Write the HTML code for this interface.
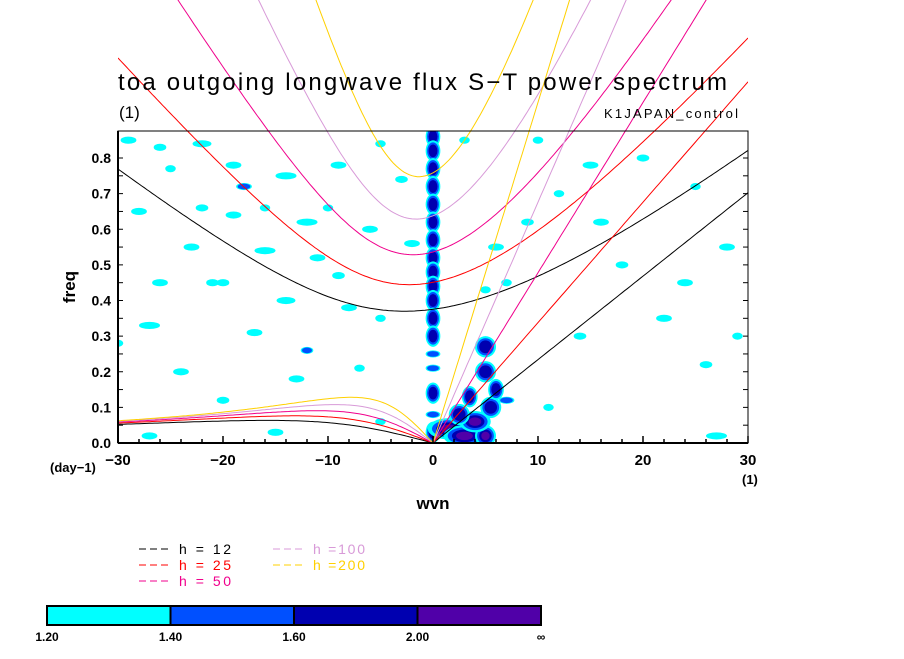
<!DOCTYPE html>
<html><head><meta charset="utf-8"><style>
body{margin:0;background:#fff;}
svg text{font-family:"Liberation Sans",sans-serif;}
</style></head><body>
<svg id="c" width="904" height="654" xmlns="http://www.w3.org/2000/svg">
<defs><clipPath id="plotx"><rect x="118" y="0" width="630" height="443"/></clipPath>
<clipPath id="plot"><rect x="118" y="131" width="630" height="312"/></clipPath></defs>
<rect width="904" height="654" fill="#fff"/>
<g id="spots" clip-path="url(#plot)"></g>
<g id="curves" clip-path="url(#plotx)"></g>
<g id="axes"></g>
<text x="118" y="90" font-size="24" fill="#000" textLength="609" lengthAdjust="spacing">toa outgoing longwave flux S−T power spectrum</text>
<text x="119" y="118" font-size="17">(1)</text>
<text x="738" y="118" font-size="13" text-anchor="end" textLength="134">K1JAPAN_control</text>
<text x="433" y="509" font-size="17" font-weight="bold" text-anchor="middle">wvn</text>
<text x="75" y="287" font-size="17" font-weight="bold" text-anchor="middle" transform="rotate(-90 75 287)">freq</text>
<text x="50" y="472" font-size="13" font-weight="bold">(day−1)</text>
<text x="742" y="484" font-size="13" font-weight="bold">(1)</text>
<g id="legend"></g>
<g id="cbar"></g>
</svg>
<script>
const NS="http://www.w3.org/2000/svg";
const depths=[12,25,50,100,200];
const depthColors=["#000000","#ff0000","#f0008c","#d89ad8","#ffd000"];
const levelLabels=["1.20","1.40","1.60","2.00","∞"];
const levelColors=["#00ffff","#0050ff","#0000b0","#5000a8"];
const xTicks=[-30,-20,-10,0,10,20,30];
const yTicks=[0,0.1,0.2,0.3,0.4,0.5,0.6,0.7,0.8];
// spots: wavenumber, frequency, level index, width (wvn), height (freq)
const spotK=[0,0,0,0,0,0,0,0,0,0,0,0,0,0,0,0,0,0,
 1.5,3,5,4,5.5,3.5,5,5,6,7,2.5,
 -29,-26,-22,-19,-25,-14,-9,-5,-3,-28,-22,-19,-12,-10,-6,-23,-16,-11,-26,-20,-14,-8,-5,-27,-17,-12,-24,-13,-7,-20,-15,-27,-5,6,9,12,15,20,25,28,18,24,29,22,14,27,10,3,7,5,-18,-21,-2,-9,-16,-30,16,26,11];
const spotF=[0.86,0.82,0.77,0.72,0.67,0.62,0.57,0.52,0.48,0.44,0.40,0.35,0.30,0.25,0.21,0.14,0.08,0.03,
 0.04,0.02,0.02,0.06,0.10,0.13,0.20,0.27,0.15,0.12,0.08,
 0.85,0.83,0.84,0.78,0.77,0.75,0.78,0.84,0.74,0.65,0.66,0.64,0.62,0.66,0.60,0.55,0.54,0.52,0.45,0.45,0.40,0.38,0.35,0.33,0.31,0.26,0.20,0.18,0.21,0.12,0.03,0.02,0.06,0.55,0.62,0.70,0.78,0.80,0.72,0.55,0.50,0.45,0.30,0.35,0.30,0.02,0.85,0.85,0.45,0.43,0.72,0.45,0.56,0.47,0.66,0.28,0.62,0.22,0.10];
const spotL=[2,2,2,2,2,2,2,2,2,2,2,2,2,1,1,2,1,2,
 3,3,3,3,2,2,2,2,2,1,2,
 0,0,0,0,0,0,0,0,0,0,0,0,0,0,0,0,0,0,0,0,0,0,0,0,0,1,0,0,0,0,0,0,0,0,0,0,0,0,0,0,0,0,0,0,0,0,0,0,0,0,1,0,0,0,0,0,0,0,0];
const spotW=[1.4,1.4,1.4,1.4,1.4,1.4,1.4,1.4,1.4,1.4,1.4,1.4,1.4,1.4,1.4,1.4,1.4,1.4,
 4,4,2,3,2,1.5,2,2,1.5,1.5,2,
 1.5,1.2,1.8,1.5,1,2,1.5,1,1.2,1.5,1.2,1.5,2,1,1.5,1.5,2,1.5,1.5,1.2,1.8,1.5,1,2,1.5,1.2,1.5,1.5,1,1.2,1.5,1.5,1,1.5,1.2,1,1.5,1.2,1,1.5,1.2,1.5,1,1.5,1.2,2,1,1,1,1,1.5,1.2,1.5,1.2,1,1,1.5,1.2,1];
const X0=118,X1=748,Y0=443,YS=356.25;
const xs=k=>X0+(k+30)/60*(X1-X0);
const ys=f=>Y0-f*YS;
function el(tag,attrs,parent){const e=document.createElementNS(NS,tag);for(const a in attrs)e.setAttribute(a,attrs[a]);parent.appendChild(e);return e;}
const sg=document.getElementById('spots');
for(let i=0;i<spotK.length;i++){
  const lv=spotL[i];
  for(let l=0;l<=lv;l++){
    const sc=1-l*0.2;
    const e=el('ellipse',{cx:xs(spotK[i]),cy:ys(spotF[i]),rx:Math.max(2,spotW[i]*5.25*sc),ry:Math.max(2,(spotL[i]>=2?0.03:0.01)*YS*sc),fill:levelColors[l]},sg);
    
    
  }
}
const a=6.371e6,beta=2*7.292e-5/a;
function roots(k){const p=-(k*k+3),q=-k;const m=2*Math.sqrt(-p/3);const th=Math.acos(Math.max(-1,Math.min(1,(3*q/(2*p))*Math.sqrt(-3/p))))/3;
 return [0,1,2].map(j=>m*Math.cos(th-2*Math.PI*j/3)).sort((u,v)=>u-v);}
const cg=document.getElementById('curves');
depths.forEach((h,i)=>{
  const c=Math.sqrt(9.81*h),L=Math.sqrt(c/beta),fs=Math.sqrt(beta*c)*86400/(2*Math.PI);
  let ig=[],er=[],kv=[];
  for(let s=-30;s<=30.001;s+=0.25){
    const k=s/a*L;const r=roots(k);
    ig.push([xs(s),ys(r[2]*fs)]);
    if(s<=0) er.push([xs(s),ys(r[1]*fs)]);
    if(s>=0) kv.push([xs(s),ys(k*fs)]);
  }
  [['ig',ig],['er',er],['kelvin',kv]].forEach(([n,pts])=>{
    const p=el('polyline',{points:pts.map(q=>q[0].toFixed(1)+','+q[1].toFixed(1)).join(' '),fill:'none',stroke:depthColors[i],'stroke-width':1},cg);
    
    
  });
});
const ag=document.getElementById('axes');
el('rect',{x:X0,y:131,width:X1-X0,height:312,fill:'none',stroke:'#000','stroke-width':1},ag);
el('line',{x1:X0,y1:Y0,x2:X1,y2:Y0,stroke:'#000','stroke-width':2},ag);
el('line',{x1:X0,y1:131,x2:X0,y2:Y0,stroke:'#000','stroke-width':2},ag);
for(let k=-30;k<=30;k+=2){el('line',{x1:xs(k),y1:Y0,x2:xs(k),y2:Y0-(k%10==0?7:4),stroke:'#000','stroke-width':1.5},ag);}
for(let f=0;f<=0.85;f+=0.05){el('line',{x1:X0,y1:ys(f),x2:X0+5,y2:ys(f),stroke:'#000','stroke-width':1},ag);el('line',{x1:X1,y1:ys(f),x2:X1-5,y2:ys(f),stroke:'#000','stroke-width':1},ag);}
xTicks.forEach(k=>{const t=el('text',{x:xs(k),y:465,'font-size':15,'font-weight':'bold','text-anchor':'middle'},ag);t.textContent=k<0?'−'+(-k):String(k);});
yTicks.forEach(f=>{const t=el('text',{x:111,y:ys(f)+5,'font-size':14,'font-weight':'bold','text-anchor':'end'},ag);t.textContent=f.toFixed(1);});
const lg=document.getElementById('legend');
depths.forEach((h,i)=>{
  const col=i<3?0:1,row=i<3?i:i-3;const x=139+col*134,y=554+row*16;
  const d=el('line',{x1:x,y1:y-5,x2:x+30,y2:y-5,stroke:depthColors[i],'stroke-dasharray':'7,4','stroke-width':1},lg);
  
  const t=el('text',{x:x+40,y:y,'font-size':14,fill:depthColors[i],textLength:52},lg);
  t.textContent=h>=100?'h ='+h:'h = '+h;
  
});
const cb=document.getElementById('cbar');
const bw=(541-47)/4;
levelColors.forEach((c,i)=>{const r=el('rect',{x:47+i*bw,y:606,width:bw,height:19,fill:c,stroke:'#000','stroke-width':2},cb);});
levelLabels.forEach((s,i)=>{const t=el('text',{x:47+i*bw,y:641,'font-size':12,'font-weight':'bold','text-anchor':'middle'},cb);t.textContent=s;});
</script>
</body></html>
